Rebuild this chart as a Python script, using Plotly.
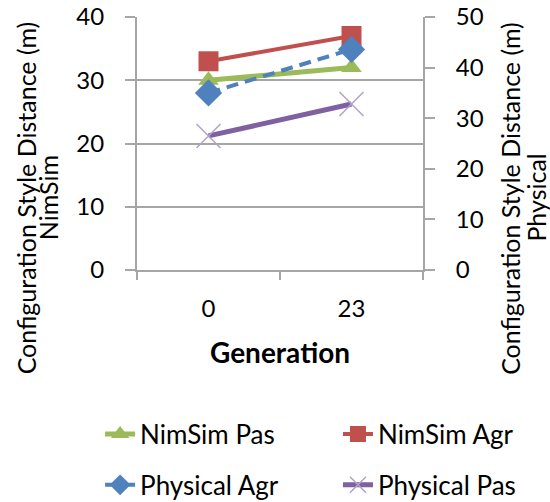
import plotly.graph_objects as go

categories = ["0", "23"]
nimsim_pas = [30.0, 32.0]
nimsim_agr = [33.0, 37.0]
physical_agr = [35.0, 43.6]
physical_pas = [26.5, 32.8]

left_ticks = [0, 10, 20, 30, 40]
right_ticks = [0, 10, 20, 30, 40, 50]

FONT = "Lato"
GRID = "#A6A6A6"

fig = go.Figure()

fig.add_trace(go.Scatter(
    x=categories, y=nimsim_pas, name="NimSim Pas", mode="lines+markers",
    line=dict(color="#9BBB59", width=5),
    marker=dict(symbol="triangle-up", size=18, color="#9BBB59"),
    yaxis="y", legend="legend"))
fig.add_trace(go.Scatter(
    x=categories, y=nimsim_agr, name="NimSim Agr", mode="lines+markers",
    line=dict(color="#C0504D", width=4),
    marker=dict(symbol="square", size=20, color="#C0504D"),
    yaxis="y", legend="legend2"))
fig.add_trace(go.Scatter(
    x=categories, y=physical_agr, name="Physical Agr", mode="lines+markers",
    line=dict(color="#4F81BD", width=4, dash="12px,7px"),
    marker=dict(symbol="diamond", size=21, color="#4F81BD"),
    yaxis="y2", legend="legend3"))
fig.add_trace(go.Scatter(
    x=categories, y=physical_pas, name="Physical Pas", mode="lines+markers",
    line=dict(color="#7F60A0", width=5),
    marker=dict(symbol="x-thin", size=24, color="#B3A2C7",
                line=dict(color="#B3A2C7", width=1.5)),
    yaxis="y2", legend="legend4"))

tickfont = dict(family=FONT, size=24, color="#000000")
legfont = dict(family=FONT, size=26, color="#000000")


def leg(x, y):
    return dict(orientation="h", x=x, xanchor="left", y=y, yanchor="middle",
                xref="container", yref="container",
                font=legfont, bgcolor="rgba(0,0,0,0)")


fig.update_layout(
    width=550, height=502,
    margin=dict(l=137, r=127, t=17, b=232, autoexpand=False),
    paper_bgcolor="white", plot_bgcolor="white",
    showlegend=True,
    xaxis=dict(
        type="category", categoryorder="array", categoryarray=categories,
        tickson="boundaries", ticks="outside", ticklen=8, tickwidth=2,
        tickcolor=GRID, showline=True, linecolor=GRID, linewidth=2,
        showgrid=False, tickfont=tickfont, ticklabelstandoff=16,
        range=[-0.5, 1.5], fixedrange=True, automargin=False),
    yaxis=dict(
        range=[0, 40], tickvals=left_ticks, ticks="outside", ticklen=10,
        tickwidth=2, tickcolor=GRID, showline=True, linecolor=GRID,
        linewidth=2, showgrid=True, gridcolor=GRID, gridwidth=2,
        zeroline=False, tickfont=tickfont, ticklabelstandoff=16,
        automargin=False),
    yaxis2=dict(
        range=[0, 50], tickvals=right_ticks, overlaying="y", side="right",
        ticks="outside", ticklen=10, tickwidth=2, tickcolor=GRID,
        showline=True, linecolor=GRID, linewidth=2, showgrid=False,
        zeroline=False, tickfont=tickfont, ticklabelstandoff=16,
        automargin=False),
    legend=leg(0.182, 0.1355),
    legend2=leg(0.6145, 0.1355),
    legend3=leg(0.182, 0.034),
    legend4=leg(0.6145, 0.034),
)

title_font = dict(family=FONT, size=25, color="#000000")
annotations = [
    dict(text="Configuration Style Distance (m)", x=-0.39, y=0.285,
         textangle=-90, font=title_font),
    dict(text="NimSim", x=-0.31, y=0.285, textangle=-90, font=title_font),
    dict(text="Configuration Style Distance (m)", x=1.304, y=0.285,
         textangle=-90, font=title_font),
    dict(text="Physical", x=1.394, y=0.285, textangle=-90, font=title_font),
    dict(text="<b>Generation</b>", x=0.5, y=-0.324,
         font=dict(family=FONT, size=28, color="#000000")),
]
for a in annotations:
    a.update(xref="paper", yref="paper", xanchor="center", yanchor="middle",
             showarrow=False)
fig.update_layout(annotations=annotations)

fig.write_html("out.html")
